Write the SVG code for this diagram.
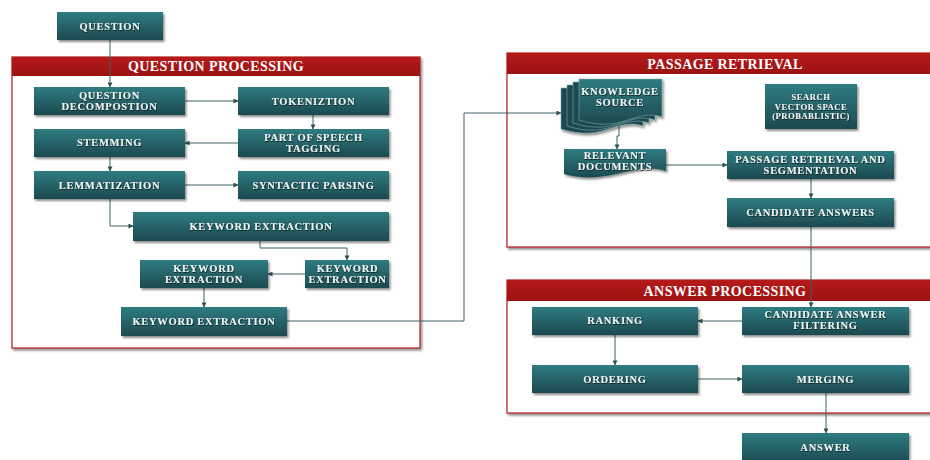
<svg xmlns="http://www.w3.org/2000/svg" width="930" height="460" viewBox="0 0 930 460">
<defs>
<linearGradient id="tg" x1="0" y1="0" x2="0" y2="1">
<stop offset="0" stop-color="#2f7c81"/>
<stop offset="1" stop-color="#1c4a50"/>
</linearGradient>
<linearGradient id="rg" x1="0" y1="0" x2="0" y2="1">
<stop offset="0" stop-color="#b51a1a"/>
<stop offset="1" stop-color="#9c1212"/>
</linearGradient>
<filter id="sh" x="-10%" y="-20%" width="125%" height="150%">
<feDropShadow dx="1.5" dy="2" stdDeviation="1.3" flood-color="#000" flood-opacity="0.45"/>
</filter>
<filter id="ts" x="-5%" y="-30%" width="110%" height="170%">
<feDropShadow dx="0.6" dy="1" stdDeviation="0.5" flood-color="#0a1a1c" flood-opacity="0.9"/>
</filter>
<marker id="ah" viewBox="0 0 6 6" refX="5.5" refY="3" markerWidth="5" markerHeight="5" orient="auto">
<path d="M0,0 L6,3 L0,6 Z" fill="#2e5257"/>
</marker>
</defs>
<style>
.box{fill:url(#tg);filter:url(#sh);}
.t{font-family:"Liberation Serif","Times New Roman",serif;font-weight:bold;font-size:10.5px;letter-spacing:0.7px;fill:#eef4f4;text-anchor:middle;filter:url(#ts);}
.s{font-size:8.6px;letter-spacing:0.5px;}
.h{font-family:"Liberation Serif","Times New Roman",serif;font-weight:bold;font-size:14px;letter-spacing:0.4px;fill:#fff;text-anchor:middle;}
.cont{fill:#fff;stroke:#b72a2a;stroke-width:1.3;filter:url(#sh);}
.hdr{fill:url(#rg);}
.c{fill:none;stroke:#3d6064;stroke-width:1;marker-end:url(#ah);}
.doc{fill:#1c4a50;stroke:#7fa7aa;stroke-width:0.6;}
</style>
<rect width="930" height="460" fill="#fff"/>

<g id="container-question-processing">
<rect class="cont" x="12" y="57" width="408" height="291"/>
<rect class="hdr" x="12" y="57" width="408" height="19"/>
<text class="h" x="216" y="71">QUESTION PROCESSING</text>
</g>
<g id="container-passage-retrieval">
<rect class="cont" x="507" y="53" width="430" height="194"/>
<rect class="hdr" x="507" y="53" width="430" height="21"/>
<text class="h" x="725" y="68.5">PASSAGE RETRIEVAL</text>
</g>
<g id="container-answer-processing">
<rect class="cont" x="507" y="280" width="430" height="133"/>
<rect class="hdr" x="507" y="280" width="430" height="21"/>
<text class="h" x="725" y="295.5">ANSWER PROCESSING</text>
</g>

<g id="connectors">
<path class="c" d="M110,40 V87"/>
<path class="c" d="M185,101 H238"/>
<path class="c" d="M313,115 V129"/>
<path class="c" d="M238,143 H185"/>
<path class="c" d="M110,157 V171"/>
<path class="c" d="M185,185 H238"/>
<path class="c" d="M110,199 V226 H133"/>
<path class="c" d="M260,241 V248 H347 V260"/>
<path class="c" d="M305,274 H268"/>
<path class="c" d="M204,288 V307"/>
<path class="c" d="M287,321 H464 V113 H561"/>
<path class="c" d="M619,124 V136 H617 V149"/>
<path class="c" d="M666,165 H727"/>
<path class="c" d="M811,179 V198"/>
<path class="c" d="M811,227 V307"/>
<path class="c" d="M742,321 H698"/>
<path class="c" d="M615,335 V365"/>
<path class="c" d="M698,379 H742"/>
<path class="c" d="M826,393 V433"/>
</g>

<g id="question"><rect class="box" x="57" y="12" width="106" height="28"/><text class="t" x="110" y="29.5">QUESTION</text></g>
<g id="question-decomposition"><rect class="box" x="34" y="87" width="151" height="28"/><text class="t" x="109.5" y="99">QUESTION</text><text class="t" x="109.5" y="110">DECOMPOSTION</text></g>
<g id="tokenization"><rect class="box" x="238" y="87" width="151" height="28"/><text class="t" x="313.5" y="104.5">TOKENIZTION</text></g>
<g id="stemming"><rect class="box" x="34" y="129" width="151" height="28"/><text class="t" x="109.5" y="146">STEMMING</text></g>
<g id="pos-tagging"><rect class="box" x="238" y="129" width="151" height="28"/><text class="t" x="313.5" y="141">PART OF SPEECH</text><text class="t" x="313.5" y="152">TAGGING</text></g>
<g id="lemmatization"><rect class="box" x="34" y="171" width="151" height="28"/><text class="t" x="109.5" y="188.5">LEMMATIZATION</text></g>
<g id="syntactic-parsing"><rect class="box" x="238" y="171" width="151" height="28"/><text class="t" x="313.5" y="188.5">SYNTACTIC PARSING</text></g>
<g id="keyword-extraction-1"><rect class="box" x="133" y="212" width="256" height="29"/><text class="t" x="261" y="229.5">KEYWORD EXTRACTION</text></g>
<g id="keyword-extraction-2"><rect class="box" x="140" y="260" width="128" height="28"/><text class="t" x="204" y="272">KEYWORD</text><text class="t" x="204" y="283">EXTRACTION</text></g>
<g id="keyword-extraction-3"><rect class="box" x="305" y="260" width="84" height="28"/><text class="t" x="347.5" y="272">KEYWORD</text><text class="t" x="347.5" y="283">EXTRACTION</text></g>
<g id="keyword-extraction-4"><rect class="box" x="121" y="307" width="166" height="29"/><text class="t" x="204" y="324.5">KEYWORD EXTRACTION</text></g>

<g id="knowledge-source" filter="url(#sh)">
<path class="doc" d="M561,88 H643 V126 C628,121 617,127 602,131 C587,135 574,133 561,129 Z"/>
<path class="doc" d="M567,85 H649 V123 C634,118 623,124 608,128 C593,132 580,130 567,126 Z"/>
<path class="doc" d="M573,82 H655 V120 C640,115 629,121 614,125 C599,129 586,127 573,123 Z"/>
<path class="doc" style="fill:url(#tg)" d="M579,79 H662 V117 C647,112 636,118 621,122 C606,126 592,124 579,120 Z"/>
<text class="t" x="620" y="95">KNOWLEDGE</text>
<text class="t" x="620" y="106">SOURCE</text>
</g>
<g id="search-vector-space"><rect class="box" x="765" y="84" width="92" height="45"/><text class="t s" x="811" y="100">SEARCH</text><text class="t s" x="811" y="109.5">VECTOR SPACE</text><text class="t s" x="811" y="119">(PROBABLISTIC)</text></g>
<g id="relevant-documents"><path class="box" d="M564,149 H666 V171 C651,166 638,169 616,174 C594,179 579,178 564,174 Z"/><text class="t" x="615" y="158.5">RELEVANT</text><text class="t" x="615" y="169.5">DOCUMENTS</text></g>
<g id="passage-retrieval-segmentation"><rect class="box" x="727" y="151" width="167" height="28"/><text class="t" x="810.5" y="162.5">PASSAGE RETRIEVAL AND</text><text class="t" x="810.5" y="173.5">SEGMENTATION</text></g>
<g id="candidate-answers"><rect class="box" x="727" y="198" width="167" height="29"/><text class="t" x="810.5" y="216">CANDIDATE ANSWERS</text></g>
<g id="ranking"><rect class="box" x="532" y="307" width="166" height="28"/><text class="t" x="615" y="324">RANKING</text></g>
<g id="candidate-answer-filtering"><rect class="box" x="742" y="307" width="167" height="28"/><text class="t" x="825.5" y="317.5">CANDIDATE ANSWER</text><text class="t" x="825.5" y="328.5">FILTERING</text></g>
<g id="ordering"><rect class="box" x="532" y="365" width="166" height="28"/><text class="t" x="615" y="382.5">ORDERING</text></g>
<g id="merging"><rect class="box" x="742" y="365" width="167" height="28"/><text class="t" x="825.5" y="382.5">MERGING</text></g>
<g id="answer"><rect class="box" x="742" y="433" width="167" height="30"/><text class="t" x="825.5" y="450.5">ANSWER</text></g>
</svg>
